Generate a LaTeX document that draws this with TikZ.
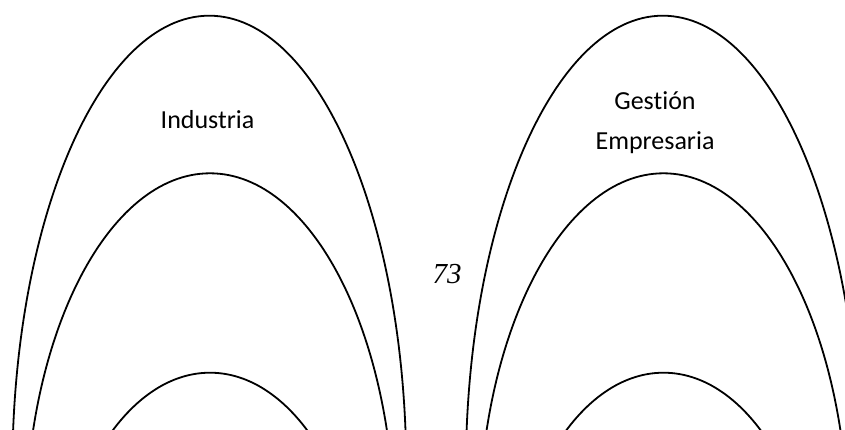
\documentclass[tikz,border=0pt]{standalone}
\usepackage{fontspec}
\setmainfont{Liberation Serif}
\newfontfamily\labelfont[Ligatures={NoCommon}]{Carlito}
\newlength{\du}
\setlength{\du}{1pt}
\tikzset{
  archline/.style={line width=1.800000\du, draw=black},
  labeltext/.style={inner sep=0pt, align=center, font=\labelfont\fontsize{26\du}{40\du}\selectfont},
  pagenum/.style={inner sep=0pt, font=\fontsize{29\du}{34\du}\selectfont\itshape}
}

\begin{document}
\begin{tikzpicture}
\pgftransformxscale{1.000000}
\pgftransformyscale{-1.000000}
\useasboundingbox (0\du,0\du) rectangle (845\du,430\du);
\clip (0\du,0\du) rectangle (845\du,430\du);
% left arches
\draw[archline] (209.300000\du,471.700000\du) ellipse [x radius=197.000000\du, y radius=456.000000\du];
\draw[archline] (210.000000\du,534.300000\du) ellipse [x radius=184.700000\du, y radius=361.000000\du];
\draw[archline] (210.000000\du,652.700000\du) ellipse [x radius=160.000000\du, y radius=280.000000\du];
% right arches
\draw[archline] (662.800000\du,471.700000\du) ellipse [x radius=197.000000\du, y radius=456.000000\du];
\draw[archline] (663.500000\du,534.300000\du) ellipse [x radius=184.700000\du, y radius=361.000000\du];
\draw[archline] (663.500000\du,652.700000\du) ellipse [x radius=160.000000\du, y radius=280.000000\du];
% setfont left to latex
\node[labeltext, anchor=base] (industria) at (207.500000\du,128.300000\du){Industria};
\node[labeltext, anchor=base] (gestion) at (655.000000\du,150.000000\du){Gestión\\Empresaria};
\node[pagenum, anchor=base] (numero) at (447.000000\du,283.300000\du){73};
\end{tikzpicture}
\end{document}
